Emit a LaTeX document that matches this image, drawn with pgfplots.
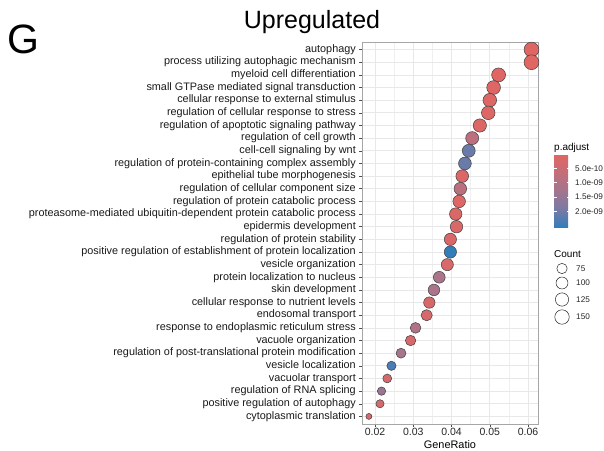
\documentclass[border=0pt]{standalone}
\usepackage{fontspec}
\setmainfont{Liberation Sans}
\usepackage{pgfplots}
\usepackage{pgfplotstable}
\pgfplotsset{compat=1.18}
\definecolor{c0}{RGB}{224,102,99}
\definecolor{c1}{RGB}{196,110,121}
\definecolor{c2}{RGB}{163,117,142}
\definecolor{c3}{RGB}{122,122,164}
\definecolor{c4}{RGB}{50,126,186}
\pgfplotstableread{
idx ratio count padj
1 0.0609 158 0.02
2 0.0609 158 0.03
3 0.0523 136 0.3
4 0.0510 133 0.5
5 0.0500 130 0.4
6 0.0496 129 0.6
7 0.0474 123 0.8
8 0.0454 118 7.6
9 0.0445 116 20.5
10 0.0435 113 20.5
11 0.0428 111 1.2
12 0.0423 110 8.0
13 0.0420 109 1.0
14 0.0411 107 1.3
15 0.0413 107 1.5
16 0.0397 103 1.6
17 0.0397 103 25.5
18 0.0389 101 1.8
19 0.0368 96 11.5
20 0.0354 92 11.5
21 0.0342 89 2.0
22 0.0335 87 2.2
23 0.0306 80 10.0
24 0.0293 76 2.5
25 0.0268 70 12.0
26 0.0243 63 23.5
27 0.0232 60 2.8
28 0.0217 56 14.0
29 0.0213 55 3.0
30 0.0184 48 3.2
}\godata
\begin{document}
\begin{tikzpicture}
\useasboundingbox (0,0) rectangle (604pt,450pt);
% main panel
\begin{axis}[
  at={(362pt,26pt)}, anchor=south west,
  width=176pt, height=382pt, scale only axis,
  xmin=0.0166, xmax=0.0626,
  ymin=0.4, ymax=30.6, y dir=reverse,
  xtick={0.02,0.03,0.04,0.05,0.06},
  xticklabels={0.02,0.03,0.04,0.05,0.06},
  minor xtick={0.025,0.035,0.045,0.055},
  ytick={1,...,30},
  yticklabels={autophagy,process utilizing autophagic mechanism,myeloid cell differentiation,small GTPase mediated signal transduction,cellular response to external stimulus,regulation of cellular response to stress,regulation of apoptotic signaling pathway,regulation of cell growth,cell-cell signaling by wnt,regulation of protein-containing complex assembly,epithelial tube morphogenesis,regulation of cellular component size,regulation of protein catabolic process,proteasome-mediated ubiquitin-dependent protein catabolic process,epidermis development,regulation of protein stability,positive regulation of establishment of protein localization,vesicle organization,protein localization to nucleus,skin development,cellular response to nutrient levels,endosomal transport,response to endoplasmic reticulum stress,vacuole organization,regulation of post-translational protein modification,vesicle localization,vacuolar transport,regulation of RNA splicing,positive regulation of autophagy,cytoplasmic translation},
  tick pos=left, tick align=outside,
  major tick length=3pt, minor tick length=0pt,
  tick style={black!70, line width=0.5pt},
  xmajorgrids, ymajorgrids, xminorgrids,
  major grid style={black!9, line width=0.7pt},
  minor grid style={black!6, line width=0.4pt},
  axis line style={black!35, line width=0.6pt},
  yticklabel style={font=\fontsize{10.85}{12}\selectfont, text=black!90, anchor=east, inner sep=0pt, xshift=-3pt, text height=7.5pt, text depth=2pt},
  xticklabel style={font=\fontsize{10.5}{12}\selectfont, text=black!85, anchor=base, yshift=-8pt},
  xlabel={GeneRatio},
  xlabel style={font=\fontsize{10.9}{13}\selectfont, at={(axis description cs:0.5,0)}, anchor=base, yshift=-24pt},
  colormap={pad}{color(0)=(c0) color(0.25)=(c1) color(0.5)=(c2) color(0.75)=(c3) color(1)=(c4)},
  point meta min=0, point meta max=25.5,
  colorbar,
  colorbar style={
    at={(1.0909,0.7068)}, anchor=north west,
    width=16pt, height=73pt, scale only axis,
    y dir=reverse,
    ytick={5,10,15,20},
    yticklabels={5.0e-10,1.0e-09,1.5e-09,2.0e-09},
    ytick pos=both, yticklabel pos=right,
    tick align=inside, major tick length=3pt,
    ytick style={white, line width=0.6pt},
    axis line style={draw=none},
    yticklabel style={font=\fontsize{8.2}{9}\selectfont, text=black!85, anchor=west, inner sep=0pt, xshift=5pt},
  },
]
\addplot[scatter, only marks, mark=*, point meta=explicit,
  scatter/use mapped color={draw=black!75, fill=mapped color},
  visualization depends on={3+0.42*sqrt(\thisrow{count}-48) \as \perpointmarksize},
  scatter/@pre marker code/.append code={\pgfsetplotmarksize{\perpointmarksize pt}},
  mark options={line width=0.5pt}]
  table[x=ratio, y=idx, meta=padj] {\godata};
\end{axis}
% overlay in pixel coordinates for titles and size legend
\begin{axis}[
  at={(0,0)}, anchor=south west,
  width=604pt, height=450pt, scale only axis,
  xmin=0, xmax=604, ymin=0, ymax=450, y dir=reverse,
  hide axis, clip=false]
\addplot[only marks, mark=*, mark size=5.18, mark options={fill=white, draw=black!85, line width=0.5pt}] coordinates {(562,268.5)};
\addplot[only marks, mark=*, mark size=5.98, mark options={fill=white, draw=black!85, line width=0.5pt}] coordinates {(562,283)};
\addplot[only marks, mark=*, mark size=6.65, mark options={fill=white, draw=black!85, line width=0.5pt}] coordinates {(562,299.5)};
\addplot[only marks, mark=*, mark size=7.24, mark options={fill=white, draw=black!85, line width=0.5pt}] coordinates {(562,317)};
\node[anchor=west, inner sep=0pt, font=\fontsize{8.2}{9}\selectfont, text=black!85] at (axis cs:576,268.5) {75};
\node[anchor=west, inner sep=0pt, font=\fontsize{8.2}{9}\selectfont, text=black!85] at (axis cs:576,283) {100};
\node[anchor=west, inner sep=0pt, font=\fontsize{8.2}{9}\selectfont, text=black!85] at (axis cs:576,299.5) {125};
\node[anchor=west, inner sep=0pt, font=\fontsize{8.2}{9}\selectfont, text=black!85] at (axis cs:576,317) {150};
\node[anchor=base west, inner sep=0pt, font=\fontsize{10}{12}\selectfont] at (axis cs:554,257) {Count};
\node[anchor=base west, inner sep=0pt, font=\fontsize{10}{12}\selectfont] at (axis cs:554,150) {p.adjust};
\node[anchor=base, inner sep=0pt, font=\fontsize{25}{30}\selectfont] at (axis cs:312,29) {Upregulated};
\node[anchor=base west, inner sep=0pt, font=\fontsize{41}{48}\selectfont] at (axis cs:7,53) {G};
\end{axis}
\end{tikzpicture}
\end{document}
